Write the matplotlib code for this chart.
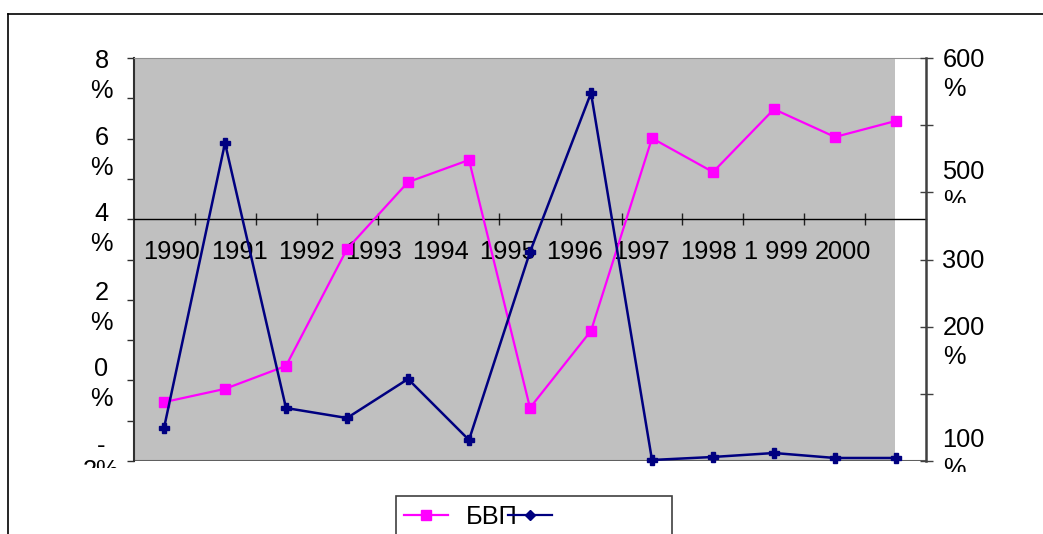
import numpy as np
import matplotlib
matplotlib.use("Agg")
import matplotlib.pyplot as plt
from matplotlib.lines import Line2D
from matplotlib.patches import Rectangle
from matplotlib.transforms import Bbox, TransformedBbox, ScaledTranslation, blended_transform_factory

# ---------------- data ----------------
year_labels = ['1990', '1991', '1992', '1993', '1994', '1995', '1996',
               '1997', '1998', '1 999', '2000']
gdp = [-0.54, -0.21, 0.36, 3.26, 4.92, 5.47, -0.68, 1.23, 6.01, 5.17, 6.73, 6.04, 6.44]
inflation = [49.1, 473.4, 78.9, 64.0, 122.1, 31.3, 311.2, 547.9, 1.5, 6.0, 11.9, 4.5, 4.5]
legend_labels = ['БВП', '']

left_ticks = list(range(-2, 9))
left_label_text = [('8', '%'), ('6', '%'), ('4', '%'), ('2', '%'), ('0', '%'), ('-', '2%')]
right_ticks = list(range(0, 601, 100))
right_label_text = [('600', '%'), ('500', '%'), ('300', ''), ('200', '%'), ('100', '%')]

# label layout (where the Excel export put them)
left_label_y = [7.95, 6.04, 4.15, 2.19, 0.31, -1.60]
right_label_y = [598.5, 431.8, 299.3, 199.5, 32.8]

W, H = 1043, 534
DPI = 100
plt.rcParams['font.family'] = ['Liberation Sans', 'DejaVu Sans']
FS = 18.3

fig = plt.figure(figsize=(W / DPI, H / DPI), dpi=DPI)

def fx(px):
    return px / W

def fy(py):
    return 1 - py / H

def pt(px):
    return px * 72 / DPI

ax_left, ax_right, ax_top, ax_bottom = 133.5, 926.5, 58, 461
ax = fig.add_axes([fx(ax_left), fy(ax_bottom), fx(ax_right) - fx(ax_left), fy(ax_top) - fy(ax_bottom)])
ax.set_facecolor('none')
x = np.arange(len(gdp))
ax.set_xlim(-0.5, len(gdp) - 0.5)
ymin, ymax = -2, 8
ax.set_ylim(ymin, ymax)

# gray plot area (ends before right axis) + shadow below
gray_w = (895 - ax_left) / (ax_right - ax_left)
shadow = Rectangle((0, 0), gray_w, 1, transform=ax.transAxes + ScaledTranslation(0, -pt(3) / 72, fig.dpi_scale_trans),
                   facecolor='#b0b0b0', edgecolor='none', zorder=0)
ax.add_patch(shadow)
ax.add_patch(Rectangle((0, 0), gray_w, 1, transform=ax.transAxes, facecolor='#c0c0c0', edgecolor='none', zorder=0.1))
ax.axhline(ymin, color='#606060', lw=1.5, zorder=1)

# spines
ax.spines['right'].set_visible(False)
ax.spines['top'].set_color('#909090')
ax.spines['top'].set_linewidth(0.8)
ax.spines['left'].set_color('#303030')
ax.spines['left'].set_linewidth(1.5)
ax.spines['bottom'].set_position(('data', 4))
ax.spines['bottom'].set_color('black')
ax.spines['bottom'].set_linewidth(1.0)

ax.set_xticks(np.arange(0.5, len(gdp) - 1, 1.0))
ax.tick_params(axis='x', direction='inout', length=pt(12), width=1, color='#202020', labelbottom=False)
ax.set_yticks(left_ticks)
ax.tick_params(axis='y', direction='out', length=pt(7), width=1, color='#303030', labelleft=False)

# year labels (laid out along the axis line, beneath it)
for i, lab in enumerate(year_labels):
    ax.text(0.13 + 1.1 * i, 3.19, lab, ha='center', va='center', fontsize=FS, color='black', zorder=1)

ax.plot(x, gdp, color='#FF00FF', lw=1.6, marker='s', ms=6.5, mec='#FF00FF', mfc='#FF00FF', zorder=3,
        clip_on=False)

# right axis
ax2 = ax.twinx()
ax2.set_ylim(0, 600)
ax2.set_yticks(right_ticks)
ax2.tick_params(axis='y', direction='inout', length=pt(13), width=1, color='#404040', labelright=False)
for s in ['left', 'top', 'bottom']:
    ax2.spines[s].set_visible(False)
ax2.spines['right'].set_color('#404040')
ax2.spines['right'].set_linewidth(1.8)
ax2.plot(x, inflation, color='#000080', lw=1.8, marker='P', ms=7, mec='#000080', mfc='#000080', zorder=3,
         clip_on=False)

# ----- axis labels (two-line, some clipped as in the export) -----
def clip_to(t, y_px_bottom):
    bb = TransformedBbox(Bbox.from_extents(0, fy(y_px_bottom), 1, 1), fig.transFigure)
    t.set_clip_box(bb)
    t.set_clip_on(True)

tl = blended_transform_factory(ax.transAxes, ax.transData)
for (a, b), yv in zip(left_label_text, left_label_y):
    off1 = ScaledTranslation(-pt(32) / 72, -pt(1) / 72, fig.dpi_scale_trans)
    gap = 25 if a == '-' else 30
    off2 = ScaledTranslation(-pt(32) / 72, -pt(1 + gap) / 72, fig.dpi_scale_trans)
    ax.text(0, yv, a, transform=tl + off1, ha='center', va='center', fontsize=FS, clip_on=False)
    t2 = ax.text(0, yv, b, transform=tl + off2, ha='center', va='center', fontsize=FS)
    if a == '-':
        clip_to(t2, 468)

tr = blended_transform_factory(ax2.transAxes, ax2.transData)
for (a, b), yv in zip(right_label_text, right_label_y):
    off1 = ScaledTranslation(pt(16) / 72, -pt(1) / 72, fig.dpi_scale_trans)
    off2 = ScaledTranslation(pt(17) / 72, -pt(30) / 72, fig.dpi_scale_trans)
    ax2.text(1, yv, a, transform=tr + off1, ha='left', va='center', fontsize=FS, clip_on=False)
    if b:
        t2 = ax2.text(1, yv, b, transform=tr + off2, ha='left', va='center', fontsize=FS)
        if a == '500':
            clip_to(t2, 203)
        elif a == '100':
            clip_to(t2, 472)
        else:
            t2.set_clip_on(False)

# ----- legend -----
handles = [Line2D([], [], color='#FF00FF', lw=1.6, marker='s', ms=6.5, mfc='#FF00FF', mec='#FF00FF'),
           Line2D([], [], color='#000080', lw=1.6, marker='D', ms=5, mfc='#000080', mec='#000080')]
fig.legend(handles, legend_labels, ncol=2, frameon=False, loc='center left',
           bbox_to_anchor=(fx(404), fy(517)), borderpad=0, borderaxespad=0,
           handlelength=1.75, handletextpad=0.7, columnspacing=-0.4, fontsize=FS)
fig.add_artist(Rectangle((fx(396), -0.1), fx(672) - fx(396), fy(496) + 0.1, transform=fig.transFigure,
                         facecolor='none', edgecolor='#404040', lw=1.2))

# outer frame (chart area border)
fig.add_artist(Line2D([fx(8), fx(8)], [-0.1, fy(14)], transform=fig.transFigure, color='black', lw=1.2))
fig.add_artist(Line2D([fx(8), 1.1], [fy(14), fy(14)], transform=fig.transFigure, color='black', lw=1.2))

fig.savefig('out.png', dpi=DPI)
